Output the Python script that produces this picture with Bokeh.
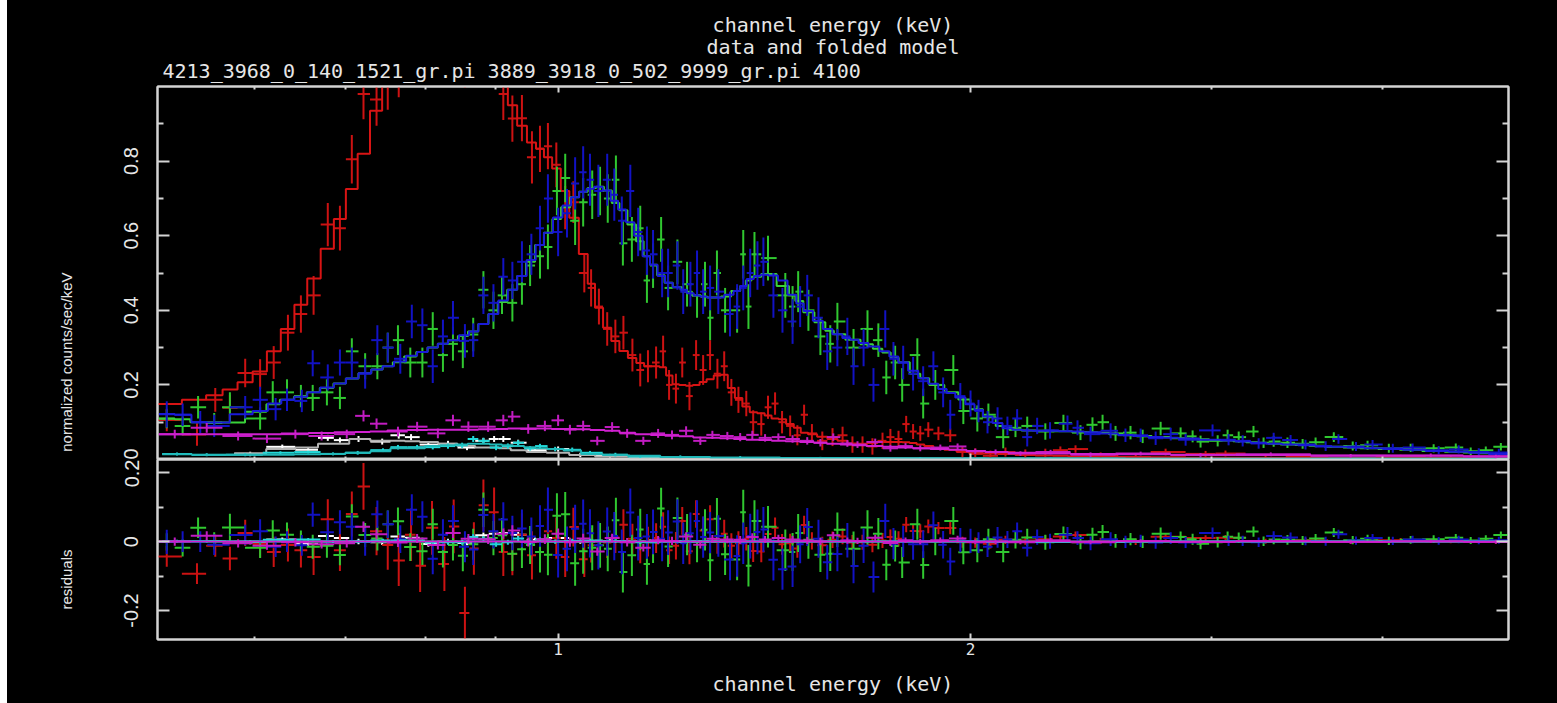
import numpy as np
from bokeh.plotting import figure
from bokeh.models import (Range1d, FixedTicker, LogAxis, LinearAxis, Title,
                          CustomJSTickFormatter, Spacer)
from bokeh.layouts import column, row
from bokeh.embed import file_html
from bokeh.resources import INLINE

# ---------------- axes / labels ----------------
x_range_keV = (0.51, 4.94)
counts_range = (0.0, 1.0)
resid_range = (-0.284, 0.238)
x_major_ticks = [1, 2]
x_minor_ticks = [0.6, 0.7, 0.8, 0.9, 3, 4]
counts_ticks = [0, 0.2, 0.4, 0.6, 0.8]
counts_minor = [0.1, 0.3, 0.5, 0.7, 0.9]
resid_ticks = [-0.2, 0, 0.2]
resid_minor = [-0.1, 0.1]
title_top = "channel energy (keV)"
title_mid = "data and folded model"
title_files = "4213_3968_0_140_1521_gr.pi 3889_3918_0_502_9999_gr.pi 4100"
y_label_top = "normalized counts/sec/keV"
y_label_bottom = "residuals"
x_label = "channel energy (keV)"

# ---------------- data: red ----------------
red_E = [0.518, 0.545, 0.562, 0.576, 0.591, 0.606, 0.620, 0.635, 0.649, 0.663,
         0.679, 0.693, 0.707, 0.721, 0.737, 0.751, 0.765, 0.781, 0.793, 0.809,
         0.826, 0.839, 0.855, 0.868, 0.882, 0.898, 0.912, 0.926, 0.941, 0.957,
         0.970, 0.983, 0.997, 1.012, 1.026, 1.045, 1.057, 1.071, 1.086, 1.101,
         1.116, 1.133, 1.148, 1.163, 1.179, 1.193, 1.205, 1.219, 1.232, 1.247,
         1.261, 1.276, 1.291, 1.307, 1.322, 1.338, 1.354, 1.372, 1.388, 1.407,
         1.423, 1.440, 1.457, 1.477, 1.495, 1.512, 1.532, 1.559, 1.586, 1.613,
         1.640, 1.668, 1.696, 1.725, 1.748, 1.772, 1.795, 1.816, 1.838, 1.863,
         1.895, 1.933, 1.973, 2.016, 2.068, 2.121, 2.193, 2.268, 2.326, 2.386,
         2.489, 2.640, 2.776, 2.969, 3.070, 3.284, 3.513, 3.789, 4.121, 4.483, 4.836]
red_model = [0.149, 0.160, 0.172, 0.188, 0.207, 0.236, 0.290, 0.350, 0.415, 0.485,
             0.565, 0.645, 0.725, 0.820, 0.935, 1.020, 1.100, 1.170, 1.220, 1.270,
             1.300, 1.310, 1.280, 1.220, 1.150, 1.080, 1.010, 0.950, 0.895, 0.850,
             0.833, 0.810, 0.780, 0.720, 0.648, 0.551, 0.471, 0.407, 0.353, 0.318,
             0.291, 0.272, 0.259, 0.250, 0.250, 0.247, 0.225, 0.202, 0.200, 0.198,
             0.200, 0.208, 0.215, 0.225, 0.227, 0.192, 0.165, 0.142, 0.127, 0.124,
             0.118, 0.110, 0.108, 0.095, 0.085, 0.072, 0.068, 0.061, 0.055, 0.050,
             0.043, 0.042, 0.044, 0.047, 0.047, 0.047, 0.046, 0.044, 0.040, 0.036,
             0.031, 0.026, 0.022, 0.018, 0.016, 0.015, 0.012, 0.011, 0.010, 0.009,
             0.008, 0.007, 0.006, 0.005, 0.005, 0.004, 0.004, 0.003, 0.003, 0.003, 0.002]
red_y = [0.106, 0.067, 0.160, 0.139, 0.232, 0.229, 0.260, 0.340, 0.390, 0.440,
         0.630, 0.620, 0.805, 0.980, 0.965, 1.010, 1.045, 1.190, 1.150, 1.310,
         1.235, 1.354, 1.073, 1.200, 1.255, 1.165, 0.980, 0.914, 0.915, 0.810,
         0.833, 0.840, 0.790, 0.675, 0.690, 0.500, 0.460, 0.410, 0.350, 0.330,
         0.340, 0.280, 0.240, 0.250, 0.260, 0.290, 0.200, 0.190, 0.260, 0.170,
         0.280, 0.240, 0.280, 0.230, 0.250, 0.180, 0.160, 0.150, 0.100, 0.095,
         0.140, 0.150, 0.100, 0.090, 0.065, 0.120, 0.070, 0.050, 0.060, 0.065,
         0.040, 0.040, 0.035, 0.050, 0.060, 0.055, 0.095, 0.075, 0.070, 0.080,
         0.070, 0.065, 0.020, 0.015, 0.010, 0.020, 0.015, 0.018, 0.025, 0.028,
         0.010, 0.006, 0.020, 0.015, 0.016, 0.005, 0.008, 0.002, 0.007, 0.004, 0.002]
red_err = [0.030, 0.030, 0.032, 0.034, 0.038, 0.040, 0.044, 0.048, 0.050, 0.052,
           0.058, 0.060, 0.065, 0.068, 0.070, 0.072, 0.074, 0.076, 0.076, 0.078,
           0.078, 0.078, 0.076, 0.076, 0.075, 0.072, 0.070, 0.062, 0.062, 0.070,
           0.062, 0.062, 0.060, 0.058, 0.056, 0.052, 0.050, 0.048, 0.045, 0.045,
           0.045, 0.044, 0.044, 0.043, 0.043, 0.042, 0.040, 0.040, 0.040, 0.038,
           0.040, 0.040, 0.040, 0.040, 0.040, 0.036, 0.035, 0.034, 0.032, 0.031,
           0.031, 0.030, 0.030, 0.028, 0.027, 0.027, 0.025, 0.025, 0.024, 0.023,
           0.022, 0.022, 0.022, 0.022, 0.022, 0.022, 0.022, 0.020, 0.020, 0.020,
           0.018, 0.018, 0.016, 0.015, 0.014, 0.012, 0.012, 0.011, 0.010, 0.010,
           0.009, 0.009, 0.009, 0.008, 0.008, 0.007, 0.007, 0.006, 0.006, 0.006, 0.006]

# ---------------- data: green ----------------
green_E = [0.518, 0.532, 0.546, 0.561, 0.576, 0.606, 0.619, 0.634, 0.649, 0.662,
           0.678, 0.693, 0.707, 0.723, 0.738, 0.751, 0.764, 0.780, 0.796, 0.810,
           0.824, 0.838, 0.852, 0.867, 0.882, 0.897, 0.910, 0.926, 0.941, 0.954,
           0.970, 0.983, 0.998, 1.012, 1.029, 1.043, 1.059, 1.073, 1.087, 1.102,
           1.115, 1.132, 1.148, 1.161, 1.173, 1.189, 1.203, 1.222, 1.242, 1.263,
           1.280, 1.291, 1.306, 1.324, 1.351, 1.365, 1.377, 1.391, 1.423, 1.465,
           1.483, 1.497, 1.523, 1.554, 1.580, 1.599, 1.643, 1.682, 1.713, 1.736,
           1.762, 1.783, 1.829, 1.847, 1.885, 1.943, 1.976, 2.023, 2.061, 2.113,
           2.157, 2.200, 2.268, 2.338, 2.406, 2.455, 2.497, 2.552, 2.617, 2.671,
           2.753, 2.847, 2.905, 2.944, 3.030, 3.081, 3.139, 3.218, 3.273, 3.329,
           3.407, 3.495, 3.572, 3.683, 3.802, 3.898, 4.040, 4.191, 4.356, 4.521,
           4.636, 4.755, 4.877]
green_model = [0.110, 0.108, 0.100, 0.098, 0.099, 0.128, 0.148, 0.160, 0.168, 0.180,
               0.192, 0.204, 0.217, 0.231, 0.241, 0.250, 0.261, 0.276, 0.288, 0.300,
               0.310, 0.320, 0.331, 0.343, 0.363, 0.390, 0.422, 0.455, 0.492, 0.530,
               0.575, 0.608, 0.645, 0.676, 0.703, 0.718, 0.728, 0.731, 0.721, 0.688,
               0.668, 0.630, 0.585, 0.545, 0.522, 0.494, 0.474, 0.462, 0.450, 0.440,
               0.436, 0.434, 0.434, 0.437, 0.452, 0.465, 0.480, 0.490, 0.497, 0.465,
               0.440, 0.425, 0.395, 0.368, 0.345, 0.336, 0.321, 0.309, 0.297, 0.287,
               0.273, 0.261, 0.230, 0.218, 0.200, 0.180, 0.161, 0.135, 0.113, 0.090,
               0.080, 0.078, 0.077, 0.076, 0.074, 0.073, 0.072, 0.068, 0.065, 0.063,
               0.060, 0.057, 0.055, 0.054, 0.052, 0.051, 0.049, 0.046, 0.044, 0.042,
               0.040, 0.039, 0.037, 0.034, 0.032, 0.030, 0.028, 0.026, 0.023, 0.021,
               0.019, 0.017, 0.015]
green_y = [0.109, 0.090, 0.140, 0.100, 0.140, 0.110, 0.180, 0.180, 0.170, 0.165,
           0.180, 0.165, 0.290, 0.250, 0.250, 0.300, 0.320, 0.260, 0.260, 0.350,
           0.280, 0.310, 0.290, 0.335, 0.455, 0.400, 0.440, 0.420, 0.470, 0.520,
           0.545, 0.570, 0.720, 0.755, 0.640, 0.690, 0.710, 0.720, 0.700, 0.750,
           0.580, 0.590, 0.620, 0.480, 0.520, 0.590, 0.460, 0.530, 0.470, 0.440,
           0.470, 0.380, 0.500, 0.400, 0.400, 0.550, 0.410, 0.550, 0.540, 0.440,
           0.410, 0.450, 0.400, 0.330, 0.310, 0.370, 0.300, 0.350, 0.320, 0.220,
           0.260, 0.200, 0.280, 0.150, 0.200, 0.240, 0.130, 0.110, 0.120, 0.060,
           0.085, 0.090, 0.075, 0.098, 0.072, 0.093, 0.100, 0.070, 0.072, 0.062,
           0.083, 0.070, 0.062, 0.048, 0.050, 0.065, 0.060, 0.075, 0.045, 0.048,
           0.045, 0.042, 0.046, 0.060, 0.036, 0.038, 0.030, 0.031, 0.030, 0.032,
           0.022, 0.025, 0.034]
green_err = [0.025, 0.025, 0.030, 0.025, 0.040, 0.030, 0.030, 0.035, 0.030, 0.035,
             0.035, 0.030, 0.035, 0.035, 0.035, 0.040, 0.040, 0.040, 0.040, 0.045,
             0.045, 0.045, 0.045, 0.045, 0.050, 0.050, 0.050, 0.050, 0.055, 0.055,
             0.060, 0.060, 0.065, 0.065, 0.065, 0.065, 0.065, 0.065, 0.065, 0.065,
             0.060, 0.060, 0.060, 0.060, 0.060, 0.060, 0.060, 0.060, 0.060, 0.060,
             0.060, 0.060, 0.060, 0.060, 0.060, 0.065, 0.060, 0.060, 0.060, 0.060,
             0.055, 0.055, 0.055, 0.050, 0.050, 0.050, 0.050, 0.050, 0.045, 0.045,
             0.045, 0.045, 0.045, 0.040, 0.040, 0.040, 0.035, 0.035, 0.030, 0.030,
             0.025, 0.025, 0.022, 0.022, 0.020, 0.020, 0.020, 0.020, 0.018, 0.018,
             0.018, 0.016, 0.016, 0.016, 0.015, 0.015, 0.015, 0.015, 0.014, 0.014,
             0.014, 0.013, 0.013, 0.013, 0.012, 0.012, 0.012, 0.011, 0.011, 0.011,
             0.010, 0.010, 0.010]

# ---------------- data: blue ----------------
blue_E = [0.518, 0.532, 0.548, 0.561, 0.591, 0.606, 0.622, 0.634, 0.650, 0.662,
          0.679, 0.693, 0.707, 0.723, 0.738, 0.751, 0.767, 0.782, 0.796, 0.810,
          0.824, 0.838, 0.855, 0.867, 0.882, 0.897, 0.912, 0.926, 0.941, 0.956,
          0.970, 0.983, 1.000, 1.015, 1.029, 1.043, 1.055, 1.070, 1.086, 1.099,
          1.113, 1.129, 1.144, 1.161, 1.173, 1.191, 1.203, 1.222, 1.234, 1.249,
          1.263, 1.276, 1.291, 1.309, 1.335, 1.351, 1.365, 1.381, 1.398, 1.412,
          1.436, 1.458, 1.483, 1.502, 1.520, 1.549, 1.572, 1.599, 1.626, 1.643,
          1.671, 1.699, 1.733, 1.757, 1.786, 1.816, 1.847, 1.879, 1.910, 1.933,
          1.966, 2.000, 2.027, 2.058, 2.093, 2.128, 2.163, 2.200, 2.237, 2.286,
          2.354, 2.394, 2.447, 2.531, 2.595, 2.662, 2.730, 2.800, 2.871, 3.004,
          3.086, 3.160, 3.246, 3.329, 3.425, 3.512, 3.633, 3.712, 3.823, 3.931,
          4.067, 4.205, 4.393, 4.543, 4.699, 4.860]
blue_model = [0.122, 0.120, 0.100, 0.099, 0.121, 0.130, 0.150, 0.160, 0.168, 0.180,
              0.193, 0.204, 0.217, 0.231, 0.241, 0.250, 0.263, 0.278, 0.288, 0.300,
              0.310, 0.320, 0.333, 0.343, 0.363, 0.390, 0.426, 0.455, 0.492, 0.535,
              0.575, 0.608, 0.649, 0.681, 0.703, 0.718, 0.726, 0.731, 0.721, 0.694,
              0.670, 0.636, 0.600, 0.545, 0.522, 0.492, 0.474, 0.462, 0.455, 0.446,
              0.440, 0.437, 0.434, 0.434, 0.442, 0.452, 0.465, 0.484, 0.492, 0.495,
              0.493, 0.480, 0.442, 0.418, 0.398, 0.372, 0.350, 0.336, 0.326, 0.321,
              0.312, 0.303, 0.290, 0.276, 0.260, 0.238, 0.218, 0.203, 0.189, 0.178,
              0.166, 0.148, 0.133, 0.115, 0.098, 0.084, 0.080, 0.078, 0.077, 0.077,
              0.076, 0.075, 0.073, 0.070, 0.066, 0.063, 0.060, 0.058, 0.056, 0.053,
              0.051, 0.048, 0.045, 0.042, 0.040, 0.038, 0.035, 0.034, 0.032, 0.030,
              0.028, 0.026, 0.023, 0.021, 0.018, 0.015]
blue_y = [0.121, 0.120, 0.100, 0.090, 0.140, 0.160, 0.135, 0.160, 0.157, 0.258,
          0.220, 0.260, 0.260, 0.230, 0.320, 0.300, 0.270, 0.370, 0.360, 0.250,
          0.330, 0.380, 0.318, 0.320, 0.440, 0.420, 0.490, 0.480, 0.530, 0.550,
          0.620, 0.700, 0.610, 0.660, 0.740, 0.770, 0.750, 0.720, 0.750, 0.710,
          0.640, 0.720, 0.610, 0.560, 0.550, 0.500, 0.500, 0.520, 0.450, 0.470,
          0.500, 0.450, 0.460, 0.450, 0.390, 0.410, 0.460, 0.500, 0.520, 0.530,
          0.440, 0.400, 0.370, 0.410, 0.440, 0.380, 0.290, 0.300, 0.330, 0.250,
          0.300, 0.200, 0.350, 0.270, 0.260, 0.230, 0.210, 0.250, 0.180, 0.120,
          0.170, 0.150, 0.130, 0.100, 0.110, 0.090, 0.110, 0.060, 0.090, 0.078,
          0.096, 0.085, 0.068, 0.077, 0.065, 0.065, 0.057, 0.068, 0.053, 0.078,
          0.053, 0.050, 0.043, 0.058, 0.052, 0.040, 0.036, 0.055, 0.035, 0.040,
          0.030, 0.032, 0.025, 0.027, 0.020, 0.019]
blue_err = [0.035, 0.030, 0.030, 0.030, 0.030, 0.035, 0.030, 0.030, 0.030, 0.035,
            0.035, 0.035, 0.040, 0.040, 0.040, 0.040, 0.040, 0.045, 0.045, 0.045,
            0.045, 0.045, 0.045, 0.045, 0.050, 0.050, 0.050, 0.050, 0.055, 0.055,
            0.060, 0.065, 0.065, 0.065, 0.070, 0.070, 0.070, 0.070, 0.070, 0.070,
            0.065, 0.070, 0.065, 0.065, 0.065, 0.065, 0.065, 0.065, 0.060, 0.060,
            0.060, 0.060, 0.060, 0.060, 0.060, 0.060, 0.060, 0.065, 0.065, 0.065,
            0.060, 0.060, 0.060, 0.055, 0.055, 0.055, 0.050, 0.050, 0.050, 0.050,
            0.050, 0.045, 0.050, 0.045, 0.045, 0.045, 0.040, 0.040, 0.040, 0.040,
            0.035, 0.035, 0.030, 0.030, 0.030, 0.025, 0.025, 0.025, 0.022, 0.022,
            0.022, 0.020, 0.020, 0.020, 0.018, 0.018, 0.018, 0.017, 0.016, 0.016,
            0.015, 0.015, 0.014, 0.014, 0.014, 0.013, 0.013, 0.013, 0.012, 0.012,
            0.012, 0.011, 0.011, 0.011, 0.010, 0.010]

# ---------------- data: magenta ----------------
magenta_E = [0.525, 0.554, 0.584, 0.613, 0.643, 0.672, 0.701, 0.721, 0.737, 0.764,
             0.789, 0.817, 0.838, 0.860, 0.889, 0.912, 0.926, 0.951, 0.978, 1.000,
             1.020, 1.043, 1.068, 1.095, 1.123, 1.154, 1.183, 1.211, 1.240, 1.270,
             1.296, 1.329, 1.358, 1.386, 1.416, 1.448, 1.483, 1.520, 1.554, 1.588,
             1.626, 1.654, 1.704, 1.748, 1.793, 1.838, 1.901, 1.957, 2.016, 2.086,
             2.175, 2.288, 2.447, 2.662, 2.944, 3.313, 3.789, 4.335, 4.836]
magenta_model = [0.068, 0.068, 0.068, 0.068, 0.070, 0.071, 0.073, 0.074, 0.075, 0.078,
                 0.079, 0.080, 0.080, 0.080, 0.081, 0.082, 0.083, 0.083, 0.083, 0.082,
                 0.082, 0.081, 0.079, 0.077, 0.072, 0.068, 0.066, 0.064, 0.062, 0.059,
                 0.058, 0.057, 0.055, 0.053, 0.052, 0.050, 0.049, 0.047, 0.045, 0.042,
                 0.040, 0.038, 0.036, 0.034, 0.032, 0.030, 0.028, 0.026, 0.023, 0.020,
                 0.018, 0.016, 0.015, 0.014, 0.013, 0.012, 0.011, 0.010, 0.009]
magenta_y = [0.068, 0.085, 0.063, 0.056, 0.068, 0.063, 0.068, 0.117, 0.096, 0.075,
             0.088, 0.070, 0.105, 0.088, 0.088, 0.105, 0.115, 0.082, 0.090, 0.105,
             0.080, 0.090, 0.050, 0.087, 0.070, 0.050, 0.070, 0.066, 0.077, 0.050,
             0.066, 0.063, 0.060, 0.066, 0.058, 0.060, 0.055, 0.050, 0.045, 0.060,
             0.043, 0.040, 0.047, 0.030, 0.036, 0.030, 0.032, 0.035, 0.022, 0.020,
             0.016, 0.020, 0.013, 0.016, 0.012, 0.014, 0.010, 0.011, 0.008]
magenta_err = [0.012, 0.013, 0.012, 0.012, 0.012, 0.012, 0.012, 0.015, 0.014, 0.013,
               0.013, 0.013, 0.015, 0.014, 0.014, 0.015, 0.015, 0.013, 0.014, 0.015,
               0.013, 0.014, 0.012, 0.013, 0.012, 0.011, 0.012, 0.012, 0.012, 0.011,
               0.011, 0.011, 0.011, 0.011, 0.010, 0.010, 0.010, 0.010, 0.010, 0.010,
               0.009, 0.009, 0.009, 0.009, 0.008, 0.008, 0.008, 0.008, 0.007, 0.007,
               0.006, 0.006, 0.006, 0.005, 0.005, 0.005, 0.005, 0.005, 0.005]

# ---------------- data: white ----------------
white_E = [0.596, 0.629, 0.657, 0.679, 0.693, 0.715, 0.744, 0.765, 0.781, 0.804,
           0.831, 0.858, 0.882, 0.898, 0.912, 0.935, 0.962, 1.000, 1.038, 1.091,
           1.167, 1.270]
white_model = [0.017, 0.028, 0.032, 0.042, 0.042, 0.055, 0.050, 0.050, 0.049, 0.047,
               0.042, 0.036, 0.032, 0.032, 0.030, 0.025, 0.020, 0.018, 0.012, 0.008,
               0.005, 0.003]
white_y = [0.015, 0.034, 0.026, 0.058, 0.052, 0.055, 0.048, 0.065, 0.060, 0.040,
           0.042, 0.032, 0.050, 0.055, 0.055, 0.045, 0.025, 0.028, 0.012, 0.010,
           0.006, 0.003]
white_err = [0.006, 0.006, 0.006, 0.008, 0.007, 0.008, 0.008, 0.009, 0.008, 0.008,
             0.008, 0.007, 0.008, 0.008, 0.008, 0.008, 0.007, 0.007, 0.006, 0.005,
             0.005, 0.004]

# ---------------- data: cyan ----------------
cyan_E = [0.527, 0.554, 0.591, 0.627, 0.657, 0.685, 0.714, 0.745, 0.764, 0.789,
          0.810, 0.831, 0.851, 0.867, 0.882, 0.901, 0.919, 0.935, 0.954, 0.970,
          0.995, 1.024, 1.055, 1.101, 1.148, 1.228, 1.358, 1.554, 1.838, 2.288,
          2.944, 3.789, 4.836]
cyan_model = [0.014, 0.012, 0.013, 0.013, 0.014, 0.015, 0.018, 0.022, 0.030, 0.030,
              0.036, 0.038, 0.040, 0.042, 0.042, 0.040, 0.038, 0.036, 0.033, 0.030,
              0.028, 0.024, 0.015, 0.012, 0.010, 0.007, 0.005, 0.004, 0.003, 0.003,
              0.002, 0.002, 0.002]
cyan_y = [0.015, 0.013, 0.013, 0.018, 0.020, 0.015, 0.018, 0.025, 0.033, 0.033,
          0.033, 0.036, 0.038, 0.055, 0.050, 0.032, 0.036, 0.045, 0.030, 0.036,
          0.028, 0.026, 0.018, 0.013, 0.008, 0.007, 0.005, 0.004, 0.003, 0.002,
          0.002, 0.002, 0.002]
cyan_err = [0.004, 0.004, 0.004, 0.004, 0.004, 0.004, 0.005, 0.005, 0.006, 0.006,
            0.006, 0.007, 0.007, 0.008, 0.008, 0.007, 0.007, 0.007, 0.006, 0.006,
            0.006, 0.006, 0.005, 0.005, 0.004, 0.004, 0.004, 0.003, 0.003, 0.003,
            0.003, 0.003, 0.003]

# drawing order and colours (data colour, model colour)
series = [
    (white_E, white_y, white_err, white_model, "#ffffff", "#b4b4b4"),
    (red_E, red_y, red_err, red_model, "#cc1212", "#d81414"),
    (green_E, green_y, green_err, green_model, "#30c830", "#3ad23a"),
    (blue_E, blue_y, blue_err, blue_model, "#1212c4", "#1a1ad8"),
    (cyan_E, cyan_y, cyan_err, cyan_model, "#22d8d8", "#20b8b8"),
    (magenta_E, magenta_y, magenta_err, magenta_model, "#c21cc2", "#d020d0"),
]

AX = "#d4d4d4"
TXT = "#e6e6e6"
BG = "#000000"
FRAME_W = 1351
TITLE_FONT = "DejaVu Sans Mono"
YLAB_FONT = "Liberation Sans"

label_fmt = CustomJSTickFormatter(code="return (Math.round(tick*1000)/1000).toString();")
blank_fmt = CustomJSTickFormatter(code="return '';")


def style_axis(ax, ticks, minor, major_in, minor_in, labels):
    ax.ticker = FixedTicker(ticks=ticks, minor_ticks=minor)
    ax.axis_line_color = AX
    ax.axis_line_width = 2
    ax.major_tick_line_color = AX
    ax.minor_tick_line_color = AX
    ax.major_tick_line_width = 2
    ax.minor_tick_line_width = 2
    ax.major_tick_in = major_in
    ax.major_tick_out = 0
    ax.minor_tick_in = minor_in
    ax.minor_tick_out = 0
    ax.axis_label = None
    ax.axis_label_standoff = 0
    if labels:
        ax.formatter = label_fmt
        ax.major_label_text_color = TXT
    else:
        ax.formatter = blank_fmt
        ax.major_label_text_font_size = "0px"
        ax.major_label_standoff = 0


def make_fig(yr, frame_h, top, bottom):
    p = figure(x_axis_type="log", x_range=Range1d(*x_range_keV), y_range=Range1d(*yr),
               frame_width=FRAME_W, frame_height=frame_h,
               min_border_left=150, min_border_right=49,
               min_border_top=top, min_border_bottom=bottom,
               background_fill_color=BG, border_fill_color=BG,
               outline_line_color=AX, outline_line_width=2,
               output_backend="svg", toolbar_location=None)
    p.grid.visible = False
    return p


def bin_edges(E):
    E = np.asarray(E, float)
    mid = np.sqrt(E[1:] * E[:-1])
    lo = np.concatenate([[E[0] ** 2 / mid[0]], mid])
    hi = np.concatenate([mid, [E[-1] ** 2 / mid[-1]]])
    return lo, hi


def text_title(text, font, size, **kw):
    return Title(text=text, text_color=TXT, text_font=font, text_font_size=size,
                 text_font_style="normal", **kw)


p1 = make_fig(counts_range, 373, 86, 0)
p2 = make_fig(resid_range, 180, 0, 64)

# upper panel axes
style_axis(p1.yaxis[0], counts_ticks, counts_minor, 12, 6, True)
style_axis(p1.xaxis[0], x_major_ticks, x_minor_ticks, 6, 3, False)
ax = LogAxis(); style_axis(ax, x_major_ticks, x_minor_ticks, 6, 3, False); p1.add_layout(ax, "above")
ax = LinearAxis(); style_axis(ax, counts_ticks, counts_minor, 12, 6, False); p1.add_layout(ax, "right")

# lower panel axes
style_axis(p2.yaxis[0], resid_ticks, resid_minor, 12, 6, True)
style_axis(p2.xaxis[0], x_major_ticks, x_minor_ticks, 6, 3, True)
p2.xaxis[0].major_label_text_font = TITLE_FONT
p2.xaxis[0].major_label_text_font_size = "16px"
p2.xaxis[0].major_label_standoff = 3
p2.xaxis[0].axis_label = x_label
p2.xaxis[0].axis_label_standoff = 14
p2.xaxis[0].axis_label_text_font = TITLE_FONT
p2.xaxis[0].axis_label_text_font_size = "20px"
p2.xaxis[0].axis_label_text_font_style = "normal"
p2.xaxis[0].axis_label_text_color = TXT
ax = LogAxis(); style_axis(ax, x_major_ticks, x_minor_ticks, 6, 3, False); p2.add_layout(ax, "above")
ax = LinearAxis(); style_axis(ax, resid_ticks, resid_minor, 12, 6, False); p2.add_layout(ax, "right")

for p in (p1, p2):
    ya = p.yaxis[0]
    ya.major_label_orientation = "vertical"
    ya.major_label_text_font = YLAB_FONT
    ya.major_label_text_font_size = "20px"
    ya.major_label_standoff = 19

# data, models and residuals
for E, y, err, m, col, mcol in series:
    E = np.asarray(E, float); y = np.asarray(y, float)
    err = np.asarray(err, float); m = np.asarray(m, float)
    lo, hi = bin_edges(E)
    p1.segment(x0=lo, y0=y, x1=hi, y1=y, line_color=col, line_width=2)
    p1.segment(x0=E, y0=y - err, x1=E, y1=y + err, line_color=col, line_width=2)
    p1.line(np.column_stack([lo, hi]).ravel(), np.repeat(m, 2), line_color=mcol, line_width=2)
    r = y - m
    p2.segment(x0=lo, y0=r, x1=hi, y1=r, line_color=col, line_width=2)
    p2.segment(x0=E, y0=r - err, x1=E, y1=r + err, line_color=col, line_width=2)
    p2.line([lo[0], hi[-1]], [0, 0], line_color=mcol, line_width=1.5)

# title lines above the upper panel (innermost first)
p1.add_layout(text_title(title_files, TITLE_FONT, "20px", align="left", offset=5,
                         vertical_align="top", standoff=4), "above")
p1.add_layout(text_title(title_mid, TITLE_FONT, "20px", align="center",
                         vertical_align="middle", standoff=-6), "above")
p1.add_layout(text_title(title_top, TITLE_FONT, "20px", align="center",
                         vertical_align="middle", standoff=-2), "above")

# y axis titles: text ends at the middle of each panel
p1.add_layout(text_title(y_label_top, YLAB_FONT, "15px", align="right", offset=186,
                         vertical_align="middle", standoff=92), "left")
p2.add_layout(text_title(y_label_bottom, YLAB_FONT, "15px", align="right", offset=90,
                         vertical_align="middle", standoff=92), "left")

strip = Spacer(width=7, height=703, styles={"background-color": "white"})
layout = row(strip, column(p1, p2, spacing=0, styles={"background-color": "black"}),
             spacing=0, styles={"background-color": "black"})
open("out.html", "w").write(file_html(layout, INLINE))
